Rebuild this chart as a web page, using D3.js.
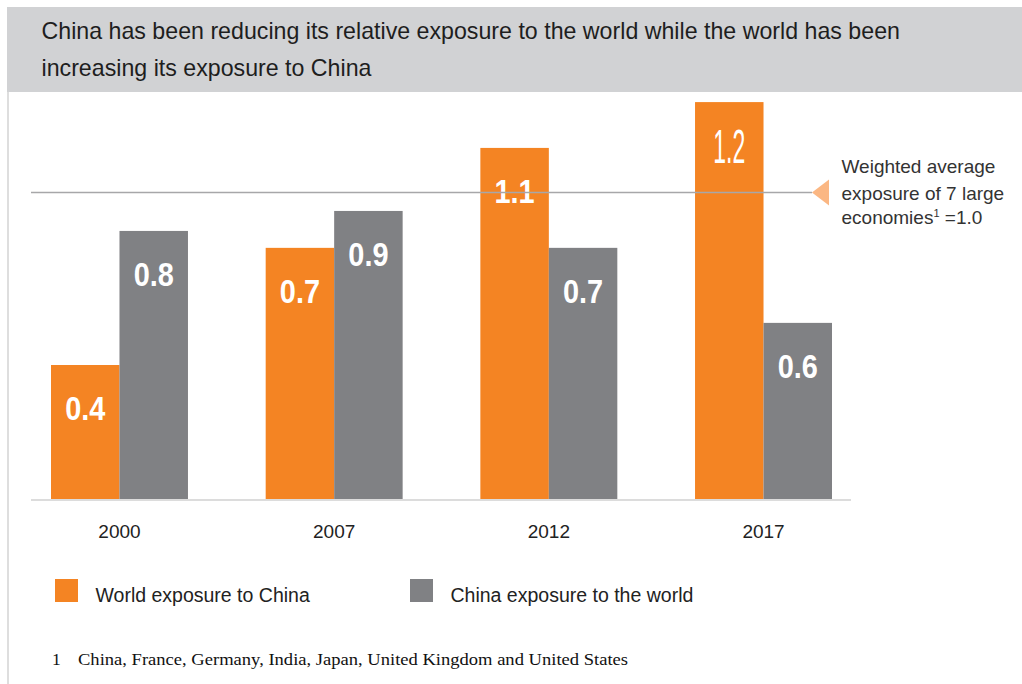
<!DOCTYPE html>
<html>
<head>
<meta charset="utf-8">
<script src="https://cdn.jsdelivr.net/npm/d3@7/dist/d3.min.js"></script>
<style>
  html, body { margin: 0; padding: 0; background: #fff; }
  svg { display: block; }
  text { font-family: "Liberation Sans", Arial, Helvetica, sans-serif; }
  text.serif { font-family: "Liberation Serif", "Times New Roman", serif; }
</style>
</head>
<body>
<svg id="chart" width="1022" height="684"></svg>
<script>
// ---- data ----
const titleLines = [
  "China has been reducing its relative exposure to the world while the world has been",
  "increasing its exposure to China"
];
const years = ["2000", "2007", "2012", "2017"];
const seriesNames = ["World exposure to China", "China exposure to the world"];
// bar heights (relative to the 1.0 reference line)
const worldExposure = [0.439, 0.82, 1.145, 1.294];
const chinaExposure = [0.875, 0.94, 0.82, 0.576];
// printed labels
const worldLabels = ["0.4", "0.7", "1.1", "1.2"];
const chinaLabels = ["0.8", "0.9", "0.7", "0.6"];
const referenceValue = 1.0;
const referenceNote = ["Weighted average", "exposure of 7 large", "economies"];
const footnoteMark = "1";
const footnoteText = "China, France, Germany, India, Japan, United Kingdom and United States";

const colors = ["#f48423", "#808184"];

// ---- drawing ----
const svg = d3.select("#chart");

// header band
svg.append("rect").attr("x", 7).attr("y", 7).attr("width", 1015).attr("height", 85)
  .attr("fill", "#d1d2d4");
// left frame line
svg.append("line").attr("x1", 8).attr("x2", 8).attr("y1", 92).attr("y2", 684)
  .attr("stroke", "#d3d3d3").attr("stroke-width", 1.5);

const titleBaselines = [38.5, 75.5];
titleLines.forEach((t, i) => {
  svg.append("text").attr("x", 41.5).attr("y", titleBaselines[i])
    .attr("font-size", 23.2).attr("fill", "#1e1e1e").text(t);
});

const x0 = d3.scaleBand().domain(years).range([51, 832]).paddingInner(0.362).paddingOuter(0);
const x1 = d3.scaleBand().domain([0, 1]).range([0, x0.bandwidth()]).padding(0);
const y = d3.scaleLinear().domain([0, referenceValue]).range([500, 192.5]);

const rows = years.map((yr, i) => ({
  year: yr,
  vals: [
    { s: 0, v: worldExposure[i], label: worldLabels[i] },
    { s: 1, v: chinaExposure[i], label: chinaLabels[i] }
  ]
}));

const groups = svg.append("g").selectAll("g").data(rows).join("g")
  .attr("transform", d => `translate(${x0(d.year)},0)`);

groups.selectAll("rect").data(d => d.vals).join("rect")
  .attr("x", d => x1(d.s))
  .attr("width", x1.bandwidth())
  .attr("y", d => y(d.v))
  .attr("height", d => y(0) - y(d.v))
  .attr("fill", d => colors[d.s]);

// baseline
svg.append("line").attr("x1", 31).attr("x2", 851).attr("y1", 500).attr("y2", 500)
  .attr("stroke", "#dcdcdc").attr("stroke-width", 2);

// reference line at 1.0
svg.append("line").attr("x1", 31).attr("x2", 812)
  .attr("y1", y(referenceValue)).attr("y2", y(referenceValue))
  .attr("stroke", "#a7a7a9").attr("stroke-width", 1.5);
const ry = y(referenceValue);
svg.append("path")
  .attr("d", `M812,${ry} L829,${ry - 13} L829,${ry + 13} Z`)
  .attr("fill", "#fbb783");

// value labels
groups.each(function (row) {
  const g = d3.select(this);
  row.vals.forEach(d => {
    const cx = x1(d.s) + x1.bandwidth() / 2;
    const top = y(d.v);
    const thin = row.year === "2017" && d.s === 0;
    const t = g.append("text")
      .attr("text-anchor", "middle")
      .attr("fill", "#fff")
      .text(d.label);
    if (thin) {
      t.attr("font-size", 49).attr("font-weight", 400)
        .attr("transform", `translate(${cx},${top + 61}) scale(0.47,1)`);
    } else {
      t.attr("font-size", 34).attr("font-weight", 700)
        .attr("transform", `translate(${cx},${top + 55}) scale(0.85,1)`);
    }
  });
});

// x axis labels
svg.append("g").selectAll("text").data(years).join("text")
  .attr("x", d => x0(d) + x0.bandwidth() / 2)
  .attr("y", 538)
  .attr("text-anchor", "middle")
  .attr("font-size", 19)
  .attr("fill", "#222")
  .text(d => d);

// reference annotation
const noteX = 841.5, noteY = [173.3, 199.5, 223.5];
referenceNote.forEach((t, i) => {
  const tx = svg.append("text").attr("x", noteX).attr("y", noteY[i])
    .attr("font-size", 19).attr("fill", "#333").text(t);
  if (i === 2) {
    tx.append("tspan").attr("font-size", 11).attr("dy", -7).text(footnoteMark);
    tx.append("tspan").attr("dy", 7).text(" =1.0");
  }
});

// legend
const legX = [55, 410];
seriesNames.forEach((n, i) => {
  svg.append("rect").attr("x", legX[i]).attr("y", 579).attr("width", 23).attr("height", 23)
    .attr("fill", colors[i]);
  svg.append("text").attr("x", legX[i] + 40.5).attr("y", 602)
    .attr("font-size", 19.5).attr("fill", "#222").text(n);
});

// footnote
svg.append("text").attr("class", "serif").attr("x", 52).attr("y", 665)
  .attr("font-size", 17.5).attr("fill", "#111").text(footnoteMark);
svg.append("text").attr("class", "serif").attr("x", 78).attr("y", 665)
  .attr("font-size", 17.5).attr("fill", "#111")
  .attr("textLength", 550).attr("lengthAdjust", "spacingAndGlyphs")
  .text(footnoteText);
</script>
</body>
</html>
